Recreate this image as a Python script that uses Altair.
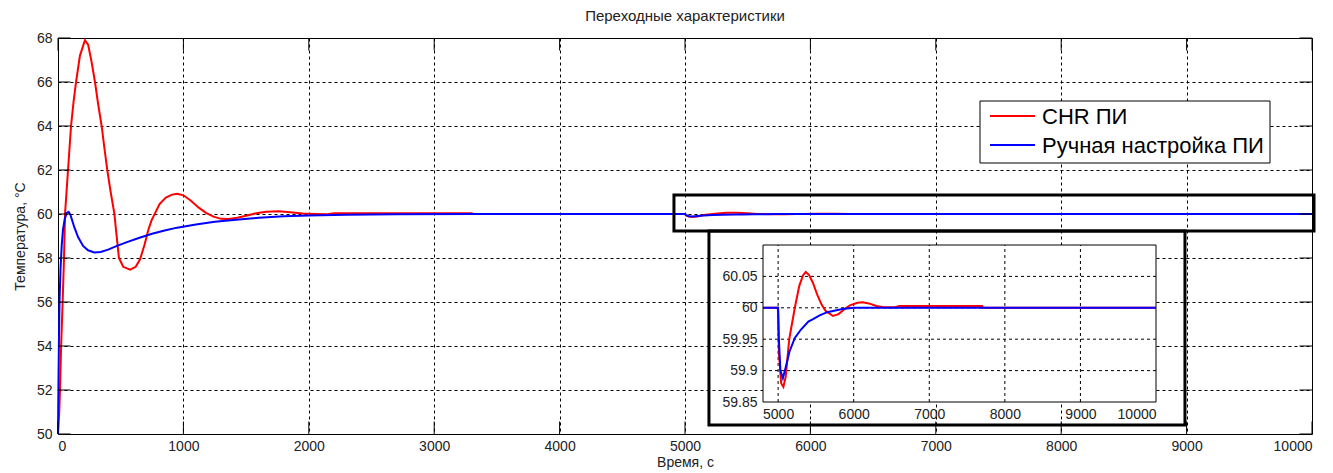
import altair as alt
import pandas as pd

series_names = ["CHR ПИ", "Ручная настройка ПИ"]
series_colors = ["#ff0000", "#0000ff"]

red_t = [0, 5, 10, 16, 25, 37, 48, 56, 68, 80, 92, 104, 124, 144, 175, 215, 240, 265, 295, 320, 348, 370,
         393, 420, 450, 462, 486, 520, 575, 620, 655, 690, 720, 745, 775, 810, 860, 910, 950, 1000, 1060,
         1120, 1180, 1240, 1300, 1360, 1430, 1500, 1580, 1660, 1760, 1850, 1950, 2050, 2150, 2200, 3300,
         3310, 4800, 4995, 5000, 5010, 5040, 5070, 5100, 5147, 5221, 5280, 5330, 5366, 5410, 5460, 5520,
         5580, 5630, 5726, 5800, 5880, 5950, 6050, 6118, 6200, 6300, 6400, 6550, 6600, 7700, 7710, 10000]
red_v = [50.0, 50.5, 51.0, 52.0, 54.0, 56.0, 58.0, 60.0, 61.0, 62.0, 63.0, 64.0, 65.1, 66.0, 67.2, 67.9,
         67.7, 67.0, 66.0, 65.0, 64.0, 63.0, 62.0, 61.0, 60.0, 59.3, 58.0, 57.6, 57.47, 57.6, 57.95, 58.6,
         59.27, 59.7, 60.05, 60.45, 60.75, 60.88, 60.92, 60.85, 60.6, 60.3, 60.05, 59.88, 59.78, 59.77,
         59.83, 59.92, 60.03, 60.1, 60.12, 60.08, 60.02, 60.0, 59.99, 60.03, 60.03, 60.0, 60.0, 60.0,
         59.99, 59.93, 59.88, 59.874, 59.89, 59.95, 60.0, 60.035, 60.052, 60.057, 60.052, 60.04, 60.02,
         60.004, 59.995, 59.987, 59.99, 59.998, 60.004, 60.008, 60.009, 60.007, 60.003, 60.001, 60.001,
         60.003, 60.003, 60.0, 60.0]

blue_t = [0, 3, 7, 12, 20, 30, 40, 55, 70, 85, 100, 130, 160, 200, 240, 290, 340, 400, 470, 550, 650,
          750, 850, 950, 1100, 1250, 1400, 1600, 1800, 2000, 2300, 2700, 3300, 4800, 5000, 5010, 5030,
          5063, 5100, 5150, 5221, 5300, 5400, 5462, 5550, 5650, 5726, 5850, 6000, 10000]
blue_v = [50.0, 52.0, 54.0, 56.0, 57.5, 58.6, 59.3, 59.8, 60.05, 60.1, 59.95, 59.4, 58.95, 58.55, 58.35,
          58.25, 58.27, 58.38, 58.55, 58.72, 58.92, 59.1, 59.25, 59.38, 59.52, 59.65, 59.73, 59.83, 59.9,
          59.93, 59.97, 59.99, 60.0, 60.0, 60.0, 59.95, 59.9, 59.888, 59.905, 59.93, 59.952, 59.965,
          59.978, 59.982, 59.988, 59.993, 59.995, 59.998, 60.0, 60.0]

x_ticks = list(range(0, 10001, 1000))
y_ticks = list(range(50, 69, 2))
inset_x_ticks = list(range(5000, 10001, 1000))
inset_y_ticks = [59.85, 59.9, 59.95, 60.0, 60.05]
inset_x_domain = [4800, 10000]
inset_y_domain = [59.85, 60.1]

# annotation boxes (data coordinates of the main axes)
zoom_box = {"x": [4912], "x2": [10016], "y": [60.86], "y2": [59.23]}
inset_frame = {"x": [5191], "x2": [8987], "y": [59.23], "y2": [50.41]}

FONT = "Liberation Sans"
W, H = 1254, 396

df = pd.concat([
    pd.DataFrame({"t": red_t, "v": red_v, "series": series_names[0], "o": 0}),
    pd.DataFrame({"t": blue_t, "v": blue_v, "series": series_names[1], "o": 1}),
])
inset_df = df[df["t"] >= inset_x_domain[0]]

color = alt.Color("series:N", scale=alt.Scale(domain=series_names, range=series_colors), legend=None)
xs = alt.Scale(domain=[0, 10000], nice=False, zero=False)
ys = alt.Scale(domain=[50, 68], nice=False, zero=False)

x_axis = alt.Axis(values=x_ticks, format="d", title="Время, с", grid=True, ticks=False, domain=False,
                  labelPadding=5, titlePadding=2)
y_axis = alt.Axis(values=y_ticks, format="d", title="Температура, °C", grid=True, ticks=False,
                  domain=False, labelPadding=6, titlePadding=9)


def MX(f):
    return alt.X(f, type="quantitative", scale=xs, axis=x_axis)


def MY(f):
    return alt.Y(f, type="quantitative", scale=ys, axis=y_axis)


lines = alt.Chart(df).mark_line(strokeWidth=2).encode(
    x=MX("t"), y=MY("v"), color=color, order="o:Q", detail="series:N",
)

# inward ticks like the original
tick_x_df = pd.DataFrame({"t": x_ticks, "b0": 50.0, "b1": 50.57, "t0": 68.0, "t1": 67.43})
tick_y_df = pd.DataFrame({"v": y_ticks, "l0": 0.0, "l1": 100.0, "r0": 10000.0, "r1": 9900.0})
tb = alt.Chart(tick_x_df).mark_rule(color="black", strokeWidth=1).encode(x=MX("t"), y=MY("b0"), y2="b1:Q")
tt = alt.Chart(tick_x_df).mark_rule(color="black", strokeWidth=1).encode(x=MX("t"), y=MY("t0"), y2="t1:Q")
tl = alt.Chart(tick_y_df).mark_rule(color="black", strokeWidth=1).encode(y=MY("v"), x=MX("l0"), x2="l1:Q")
tr = alt.Chart(tick_y_df).mark_rule(color="black", strokeWidth=1).encode(y=MY("v"), x=MX("r0"), x2="r1:Q")

zb = alt.Chart(pd.DataFrame(zoom_box)).mark_rect(filled=False, stroke="black", strokeWidth=3).encode(
    x=MX("x"), x2="x2:Q", y=MY("y"), y2="y2:Q")
fb = alt.Chart(pd.DataFrame(inset_frame)).mark_rect(filled=False, stroke="black", strokeWidth=3).encode(
    x=MX("x"), x2="x2:Q", y=MY("y"), y2="y2:Q")

# legend (drawn like the MATLAB legend box)
lg_box = alt.Chart().mark_rect(fill="white", stroke="black", strokeWidth=1).encode(
    x=alt.value(922), x2=alt.value(1212), y=alt.value(63), y2=alt.value(125))
lg_items = []
for i, (nm, col) in enumerate(zip(series_names, series_colors)):
    yy = 78 + 29 * i
    lg_items.append(alt.Chart().mark_rule(color=col, strokeWidth=2).encode(
        x=alt.value(932), x2=alt.value(977), y=alt.value(yy)))
    lg_items.append(alt.Chart().mark_text(text=nm, font=FONT, fontSize=22, align="left",
                                          baseline="middle", color="black").encode(
        x=alt.value(984), y=alt.value(yy + 1)))

main = alt.layer(lines, tb, tt, tl, tr, zb, fb, lg_box, *lg_items)

# inset axes
ixs = alt.Scale(domain=inset_x_domain, range=[705, 1098], nice=False, zero=False)
iys = alt.Scale(domain=inset_y_domain, range=[364, 207], nice=False, zero=False)
ix_axis = alt.Axis(orient="bottom", offset=-32, values=inset_x_ticks, format="d", grid=False,
                   ticks=False, domain=False, labelPadding=5, title=None)
iy_axis = alt.Axis(orient="left", offset=-705, values=inset_y_ticks, labelExpr="'' + datum.value",
                   grid=False, ticks=False, domain=False, labelPadding=6, title=None)


def IX(f):
    return alt.X(f, type="quantitative", scale=ixs, axis=ix_axis)


def IY(f):
    return alt.Y(f, type="quantitative", scale=iys, axis=iy_axis)


ibg = alt.Chart(pd.DataFrame({"x": [inset_x_domain[0]], "x2": [inset_x_domain[1]],
                              "y": [inset_y_domain[0]], "y2": [inset_y_domain[1]]})).mark_rect(
    fill="white", stroke="black", strokeWidth=1).encode(x=IX("x"), x2="x2:Q", y=IY("y"), y2="y2:Q")
igx = alt.Chart(pd.DataFrame({"t": inset_x_ticks[:-1], "a": inset_y_domain[0], "b": inset_y_domain[1]})
                ).mark_rule(color="black", strokeWidth=1, strokeDash=[3, 3]).encode(
    x=IX("t"), y=IY("a"), y2="b:Q")
igy = alt.Chart(pd.DataFrame({"v": inset_y_ticks[1:], "a": inset_x_domain[0], "b": inset_x_domain[1]})
                ).mark_rule(color="black", strokeWidth=1, strokeDash=[3, 3]).encode(
    y=IY("v"), x=IX("a"), x2="b:Q")
ilines = alt.Chart(inset_df).mark_line(strokeWidth=2).encode(
    x=IX("t"), y=IY("v"), color=color, order="o:Q", detail="series:N",
)
inset = alt.layer(ibg, igx, igy, ilines)

chart = alt.layer(main, inset).resolve_scale(x="independent", y="independent").properties(
    width=W, height=H,
    title=alt.TitleParams("Переходные характеристики", fontSize=15, fontWeight="normal", font=FONT,
                          color="#222222", anchor="middle", offset=7),
    autosize=alt.AutoSizeParams(type="none"),
    padding={"left": 50, "top": 30, "right": 10, "bottom": 38},
).configure_view(stroke="black", strokeWidth=1).configure_axis(
    labelFont=FONT, labelFontSize=14, labelColor="#222222", titleFont=FONT, titleFontSize=14,
    titleFontWeight="normal", titleColor="#222222", gridColor="black", gridDash=[3, 3],
    gridOpacity=1, gridWidth=1,
)

chart.save("out.html", embed_options={"renderer": "svg", "actions": False})
